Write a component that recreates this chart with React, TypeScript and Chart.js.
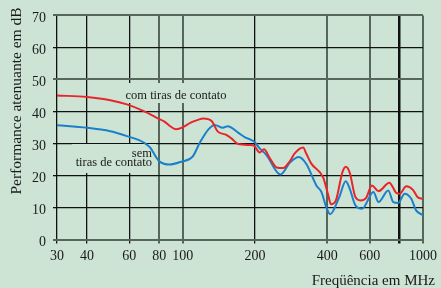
import { useEffect, useRef } from "react";
import { Chart, registerables } from "chart.js";

Chart.register(...registerables);

const BG = "#cde4d4";

// Frequencies (MHz) for x-axis ticks and their labels
const xTickValues = [30, 40, 60, 80, 100, 200, 400, 600, 800, 1000];
const xTickLabels = ["30", "40", "60", "80", "100", "200", "400", "600", "", "1000"];

// Series: "com tiras de contato" (red)
const comFreq = [30, 40, 50, 58.6, 68.9, 78, 84, 89, 94, 100, 108, 115, 122, 132, 140, 152, 160, 170, 191, 198, 209, 218, 230, 246, 262, 280, 292, 317, 327, 343, 384, 402, 414, 434, 462, 477, 495, 523, 549, 580, 613, 653, 724, 776, 800, 852, 908, 948, 1000];
const comDb = [45, 44.5, 43.5, 42.2, 40.1, 38, 36.8, 35.3, 34.4, 35, 36.5, 37.3, 37.8, 37, 33.7, 32.7, 31.5, 29.8, 29.5, 29.3, 27.2, 28.2, 25.5, 22.5, 22.3, 24.6, 26.8, 28.7, 26.8, 23.7, 19.4, 14.3, 11, 12.2, 21, 22.7, 21, 13.3, 12.2, 13, 16.9, 15.1, 17.7, 14.5, 14.3, 16.6, 15.5, 13.3, 12.7];

// Series: "sem tiras de contato" (blue)
const semFreq = [30, 40, 50, 58.6, 68.9, 73.3, 77.4, 80, 88, 98.6, 110, 118, 128, 136, 147, 154, 170, 181, 198, 210, 218, 224, 255, 280, 304, 327, 360, 378, 396, 411, 448, 477, 495, 523, 558, 622, 653, 717, 752, 788, 839, 894, 936, 1000];
const semDb = [35.7, 34.9, 33.8, 32.3, 30.3, 28.7, 25.8, 24.4, 23.4, 24.3, 25.9, 30.3, 34.4, 35.8, 34.9, 35.4, 33.4, 32, 30.6, 28.3, 27.2, 26.2, 20.3, 24.1, 25.8, 23.6, 16.9, 14.8, 10.1, 7.9, 13.2, 18.2, 16, 10.7, 9.6, 14.8, 11.7, 15.3, 11.7, 11.4, 14.3, 12.7, 9.1, 7.6];

const yMin = 0;
const yMax = 70;
const yStep = 10;

const SERIF = '"Liberation Serif", "Times New Roman", serif';

const grayX = [80, 100, 400, 600, 1000];
const grayY = [0, 50, 70];

export default function App() {
  const ref = useRef<HTMLCanvasElement | null>(null);

  useEffect(() => {
    document.body.style.margin = "0";
    const canvas = ref.current;
    if (!canvas) return;

    const labelsPlugin = {
      id: "labelsPlugin",
      beforeDraw(chart: any) {
        const ctx = chart.ctx;
        ctx.save();
        ctx.fillStyle = BG;
        ctx.fillRect(0, 0, chart.width, chart.height);
        ctx.restore();
      },
      beforeDatasetsDraw(chart: any) {
        const ctx = chart.ctx;
        ctx.save();
        ctx.fillStyle = BG;
        ctx.fillRect(121, 83, 110, 20);
        ctx.fillRect(72, 144, 84, 29);
        ctx.fillStyle = "#1a1a1a";
        ctx.font = `12.5px ${SERIF}`;
        ctx.textBaseline = "alphabetic";
        ctx.textAlign = "left";
        ctx.fillText("com tiras de contato", 125.5, 99);
        ctx.textAlign = "right";
        ctx.fillText("sem", 152, 156.5);
        ctx.fillText("tiras de contato", 152, 166);
        ctx.restore();
      },
      afterDraw(chart: any) {
        const ctx = chart.ctx;
        ctx.save();
        ctx.fillStyle = "#1a1a1a";
        ctx.font = `15.5px ${SERIF}`;
        ctx.translate(17, 101);
        ctx.rotate(-Math.PI / 2);
        ctx.textAlign = "center";
        ctx.textBaseline = "middle";
        ctx.fillText("Performance atenuante em dB", 0, 0);
        ctx.restore();
        ctx.save();
        ctx.fillStyle = "#1a1a1a";
        ctx.font = `15px ${SERIF}`;
        ctx.textAlign = "right";
        ctx.textBaseline = "alphabetic";
        ctx.fillText("Freqüência em MHz", 435, 285);
        ctx.restore();
      },
    };

    const chart = new Chart(canvas, {
      type: "scatter",
      data: {
        datasets: [
          {
            label: "com tiras de contato",
            data: comFreq.map((f, i) => ({ x: f, y: comDb[i] })),
            showLine: true,
            borderColor: "#e6262b",
            backgroundColor: "#e6262b",
            borderWidth: 2,
            pointRadius: 0,
            cubicInterpolationMode: "monotone",
          },
          {
            label: "sem tiras de contato",
            data: semFreq.map((f, i) => ({ x: f, y: semDb[i] })),
            showLine: true,
            borderColor: "#1b7fc9",
            backgroundColor: "#1b7fc9",
            borderWidth: 2,
            pointRadius: 0,
            cubicInterpolationMode: "monotone",
          },
        ],
      },
      options: {
        animation: false,
        responsive: false,
        devicePixelRatio: 1,
        layout: { padding: { top: 13, right: 13, left: 0, bottom: 0 } },
        plugins: {
          legend: { display: false },
          tooltip: { enabled: false },
        },
        scales: {
          x: {
            type: "logarithmic",
            min: 30,
            max: 1000,
            afterBuildTicks: (scale: any) => {
              scale.ticks = xTickValues.map((v) => ({ value: v }));
            },
            afterFit: (scale: any) => {
              scale.height = 48.5;
            },
            border: { display: false },
            grid: {
              drawTicks: true,
              tickLength: 4,
              color: (c: any) => (grayX.includes(c.tick?.value) ? "#56665a" : "#111111"),
              lineWidth: (c: any) => {
                const v = c.tick?.value;
                if (v === 800) return 2.5;
                if (grayX.includes(v)) return 2;
                return 1.3;
              },
            },
            ticks: {
              autoSkip: false,
              maxRotation: 0,
              minRotation: 0,
              padding: 4,
              color: "#1a1a1a",
              font: { family: SERIF, size: 14 },
              callback: (_v: any, i: number) => xTickLabels[i],
            },
          },
          y: {
            min: yMin,
            max: yMax,
            afterFit: (scale: any) => {
              scale.width = 57;
            },
            border: { display: false },
            grid: {
              drawTicks: true,
              tickLength: 4,
              color: (c: any) => (grayY.includes(c.tick?.value) ? "#56665a" : "#111111"),
              lineWidth: (c: any) => (grayY.includes(c.tick?.value) ? 2 : 1.3),
            },
            ticks: {
              stepSize: yStep,
              padding: 7,
              labelOffset: 3,
              color: "#1a1a1a",
              font: { family: SERIF, size: 14 },
            },
          },
        },
      },
      plugins: [labelsPlugin],
    } as any);

    return () => chart.destroy();
  }, []);

  return (
    <div style={{ position: "fixed", left: 0, top: 0, width: 441, height: 288, background: BG }}>
      <canvas ref={ref} width={441} height={288} style={{ display: "block", width: 441, height: 288 }} />
    </div>
  );
}
